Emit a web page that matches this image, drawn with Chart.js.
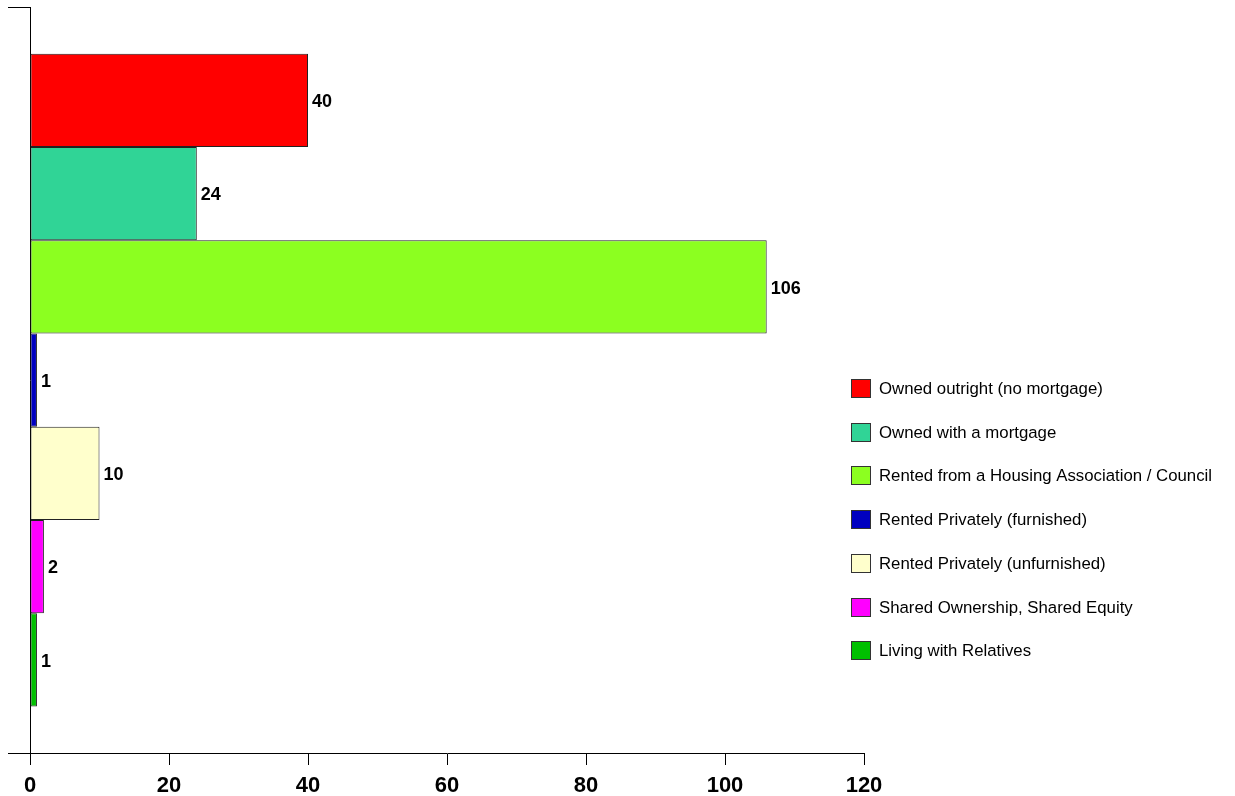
<!DOCTYPE html>
<html>
<head>
<meta charset="utf-8">
<style>
  html, body { margin: 0; padding: 0; background: #ffffff; }
  #wrap { width: 1235px; height: 796px; position: relative; }
  canvas { display: block; }
</style>
<script src="https://cdn.jsdelivr.net/npm/chart.js@4.4.1/dist/chart.umd.min.js"></script>
</head>
<body>
<div id="wrap"><canvas id="chart" width="1235" height="796"></canvas></div>
<script>
// Tenure categories and household counts
const categories = [
  'Owned outright (no mortgage)',
  'Owned with a mortgage',
  'Rented from a Housing Association / Council',
  'Rented Privately (furnished)',
  'Rented Privately (unfurnished)',
  'Shared Ownership, Shared Equity',
  'Living with Relatives'
];
const counts = [40, 24, 106, 1, 10, 2, 1];
const barColors = ['#FF0000', '#30D496', '#8CFF20', '#0000C0', '#FFFFCC', '#FF00FF', '#00C000'];
const xTicks = [0, 20, 40, 60, 80, 100, 120];

const FONT = 'Arial, "Liberation Sans", sans-serif';

// One dataset per tenure type so each bar gets its own legend entry
const datasets = categories.map((name, i) => ({
  label: name,
  data: [counts[i]],
  backgroundColor: barColors[i],
  borderColor: '#222222',
  borderWidth: 1,
  borderSkipped: false,
  categoryPercentage: 0.875,
  barPercentage: 1.0
}));

// Value labels to the right of each bar
const valueLabels = {
  id: 'valueLabels',
  afterDatasetsDraw(chart) {
    const ctx = chart.ctx;
    ctx.save();
    ctx.font = 'bold 18px ' + FONT;
    ctx.fillStyle = '#000000';
    ctx.textAlign = 'left';
    ctx.textBaseline = 'middle';
    chart.data.datasets.forEach((ds, i) => {
      const meta = chart.getDatasetMeta(i);
      meta.data.forEach((bar, j) => {
        ctx.fillText(String(ds.data[j]), bar.x + 4, bar.y + 2);
      });
    });
    ctx.restore();
  }
};

// Legend column on the right
const sideLegend = {
  id: 'sideLegend',
  afterDraw(chart) {
    const ctx = chart.ctx;
    const x0 = 851, y0 = 388, step = 43.7;
    ctx.save();
    ctx.font = '16.8px ' + FONT;
    ctx.textAlign = 'left';
    ctx.textBaseline = 'middle';
    chart.data.datasets.forEach((ds, i) => {
      const y = Math.round(y0 + i * step);
      ctx.fillStyle = ds.backgroundColor;
      ctx.fillRect(x0, y - 9, 20, 19);
      ctx.strokeStyle = '#333333';
      ctx.lineWidth = 1;
      ctx.strokeRect(x0 + 0.5, y - 8.5, 19, 18);
      ctx.fillStyle = '#000000';
      ctx.fillText(ds.label, 879, y + 1);
    });
    ctx.restore();
  }
};

new Chart(document.getElementById('chart'), {
  type: 'bar',
  data: { labels: [''], datasets },
  plugins: [valueLabels, sideLegend],
  options: {
    indexAxis: 'y',
    responsive: false,
    animation: false,
    devicePixelRatio: 1,
    layout: { padding: { top: 7, left: 8, right: 371, bottom: 0 } },
    plugins: {
      legend: { display: false },
      tooltip: { enabled: false },
      title: { display: false }
    },
    scales: {
      x: {
        min: 0,
        max: 120,
        afterBuildTicks(scale) { scale.ticks = xTicks.map(v => ({ value: v })); },
        afterFit(scale) { scale.height = 43; },
        border: { display: true, color: '#000000', width: 1 },
        grid: {
          drawOnChartArea: false,
          drawTicks: true,
          tickLength: 12,
          color: '#000000',
          lineWidth: 1
        },
        ticks: {
          color: '#000000',
          padding: 8,
          maxRotation: 0,
          font: { family: FONT, size: 22, weight: 'bold' }
        }
      },
      y: {
        type: 'category',
        offset: true,
        afterFit(scale) { scale.width = 22; },
        border: { display: true, color: '#000000', width: 1 },
        grid: {
          offset: true,
          drawOnChartArea: false,
          drawTicks: true,
          tickLength: 22,
          color: '#000000',
          lineWidth: 1
        },
        ticks: { display: false }
      }
    }
  }
});
</script>
</body>
</html>
